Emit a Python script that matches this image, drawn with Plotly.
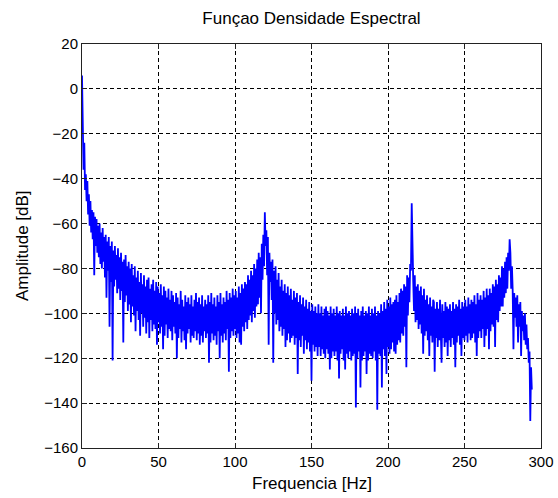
import plotly.graph_objects as go

# Spectral density estimate, one value every 0.5 Hz from 0 Hz to 294 Hz (dB)
amplitude_db = [
    # 0 - 4.5 Hz
    6, -19, -36, -24, -45, -38, -50, -41, -56, -47,
    # 5 Hz
    -61, -50, -64, -54, -67, -55, -83, -57, -70, -58,
    # 10 Hz
    -73, -61, -75, -60, -78, -64, -80, -62, -77, -66,
    # 15 Hz
    -84, -65, -93, -68, -81, -66, -106, -70, -86, -68,
    # 20 Hz
    -121, -72, -88, -70, -85, -74, -91, -71, -89, -75,
    # 25 Hz
    -94, -73, -90, -77, -113, -76, -95, -74, -92, -79,
    # 30 Hz
    -99, -77, -96, -80, -104, -78, -97, -83, -101, -79,
    # 35 Hz
    -108, -84, -99, -81, -103, -86, -110, -82, -100, -87,
    # 40 Hz
    -106, -83, -102, -88, -109, -85, -104, -84, -111, -89,
    # 45 Hz
    -103, -87, -108, -85, -105, -90, -107, -86, -114, -88,
    # 50 Hz
    -104, -91, -109, -87, -106, -92, -116, -88, -110, -90,
    # 55 Hz
    -105, -93, -111, -89, -107, -94, -108, -90, -112, -92,
    # 60 Hz
    -106, -95, -109, -91, -120, -93, -111, -96, -107, -90,
    # 65 Hz
    -113, -94, -108, -97, -112, -92, -116, -95, -109, -93,
    # 70 Hz
    -107, -96, -113, -92, -110, -97, -111, -94, -108, -91,
    # 75 Hz
    -112, -95, -109, -93, -114, -96, -110, -92, -113, -97,
    # 80 Hz
    -108, -94, -111, -96, -109, -92, -122, -95, -113, -91,
    # 85 Hz
    -109, -96, -112, -93, -110, -97, -114, -92, -108, -95,
    # 90 Hz
    -120, -91, -110, -96, -113, -93, -109, -95, -112, -90,
    # 95 Hz
    -107, -94, -126, -91, -111, -93, -108, -89, -110, -92,
    # 100 Hz
    -107, -90, -111, -93, -109, -88, -113, -91, -114, -87,
    # 105 Hz
    -106, -89, -108, -86, -104, -87, -107, -83, -103, -85,
    # 110 Hz
    -101, -81, -104, -83, -99, -78, -102, -80, -97, -76,
    # 115 Hz
    -96, -73, -93, -75, -100, -69, -85, -65, -79, -55,
    # 120 Hz
    -70, -63, -83, -66, -114, -73, -86, -77, -94, -76,
    # 125 Hz
    -122, -81, -100, -79, -105, -85, -103, -82, -108, -88,
    # 130 Hz
    -106, -85, -110, -90, -107, -87, -115, -91, -112, -88,
    # 135 Hz
    -109, -92, -113, -89, -111, -94, -110, -90, -114, -93,
    # 140 Hz
    -111, -91, -127, -95, -112, -92, -115, -96, -110, -93,
    # 145 Hz
    -118, -97, -112, -94, -116, -98, -113, -95, -117, -99,
    # 150 Hz
    -130, -96, -114, -99, -117, -97, -115, -100, -119, -96,
    # 155 Hz
    -115, -100, -119, -97, -116, -101, -118, -98, -120, -97,
    # 160 Hz
    -116, -99, -118, -101, -125, -97, -120, -100, -117, -98,
    # 165 Hz
    -119, -101, -117, -97, -121, -100, -129, -99, -118, -101,
    # 170 Hz
    -116, -98, -121, -101, -125, -97, -118, -100, -120, -99,
    # 175 Hz
    -117, -101, -121, -98, -119, -100, -118, -97, -142, -100,
    # 180 Hz
    -120, -98, -117, -101, -133, -99, -121, -97, -119, -101,
    # 185 Hz
    -117, -99, -127, -100, -121, -97, -118, -101, -119, -98,
    # 190 Hz
    -120, -100, -117, -97, -121, -101, -143, -99, -118, -100,
    # 195 Hz
    -119, -96, -133, -99, -116, -95, -119, -98, -127, -94,
    # 200 Hz
    -115, -97, -118, -93, -116, -96, -113, -95, -117, -94,
    # 205 Hz
    -118, -92, -114, -95, -112, -91, -113, -89, -109, -90,
    # 210 Hz
    -110, -87, -106, -88, -124, -83, -101, -84, -95, -78,
    # 215 Hz
    -81, -51, -75, -86, -99, -83, -104, -88, -103, -87,
    # 220 Hz
    -107, -90, -105, -88, -109, -92, -118, -89, -110, -94,
    # 225 Hz
    -108, -92, -112, -96, -119, -93, -110, -97, -113, -94,
    # 230 Hz
    -95, -126, -98, -111, -95, -115, -98, -112, -94, -114,
    # 235 Hz
    -122, -96, -111, -99, -115, -95, -113, -97, -119, -98,
    # 240 Hz
    -112, -96, -115, -99, -111, -95, -114, -98, -124, -96,
    # 245 Hz
    -113, -97, -110, -94, -114, -98, -119, -95, -111, -97,
    # 250 Hz
    -112, -94, -110, -97, -113, -93, -109, -96, -112, -94,
    # 255 Hz
    -111, -95, -109, -92, -113, -96, -119, -91, -111, -94,
    # 260 Hz
    -108, -92, -111, -94, -107, -90, -115, -93, -110, -89,
    # 265 Hz
    -107, -92, -116, -89, -108, -91, -105, -87, -106, -88,
    # 270 Hz
    -115, -85, -103, -87, -104, -83, -99, -84, -97, -79,
    # 275 Hz
    -97, -80, -93, -77, -91, -75, -89, -73, -81, -67,
    # 280 Hz
    -73, -89, -79, -90, -116, -91, -102, -93, -106, -92,
    # 285 Hz
    -113, -96, -106, -95, -119, -99, -108, -101, -112, -100,
    # 290 - 294 Hz
    -114, -105, -116, -111, -122, -117, -148, -124, -134,
]

freq_step_hz = 0.5
frequency_hz = [i * freq_step_hz for i in range(len(amplitude_db))]

x_ticks = [0, 50, 100, 150, 200, 250, 300]
y_ticks = [20, 0, -20, -40, -60, -80, -100, -120, -140, -160]

title_text = "Funçao Densidade Espectral"
x_label = "Frequencia [Hz]"
y_label = "Amplitude [dB]"

W, H = 558, 498
L, R, T, B = 82, 17, 44, 50
plot_w = W - L - R
plot_h = H - T - B

label_font = dict(family="Arial, Liberation Sans", size=17, color="#000000")

fig = go.Figure()
fig.add_trace(go.Scatter(
    x=frequency_hz,
    y=amplitude_db,
    mode="lines",
    line=dict(color="#0000ff", width=1.8),
    hoverinfo="skip",
    showlegend=False,
))

axis_common = dict(
    showline=True,
    linecolor="#222222",
    linewidth=1,
    mirror="ticks",
    ticks="inside",
    ticklen=5,
    tickcolor="#222222",
    showgrid=True,
    gridcolor="#000000",
    gridwidth=1,
    griddash="4px,3px",
    zeroline=False,
    tickfont=dict(family="Arial, Liberation Sans", size=15, color="#000000"),
)

fig.update_layout(
    width=W,
    height=H,
    margin=dict(l=L, r=R, t=T, b=B, autoexpand=False),
    paper_bgcolor="#ffffff",
    plot_bgcolor="#ffffff",
    title=dict(
        text=title_text,
        x=0.5, xref="paper", xanchor="center",
        y=1 - 18 / H, yref="container", yanchor="middle",
        font=label_font,
    ),
    xaxis=dict(range=[0, 300], tickvals=x_ticks, **axis_common),
    yaxis=dict(range=[-160, 20], tickvals=y_ticks, **axis_common),
    annotations=[
        dict(
            text=x_label, xref="paper", yref="paper",
            x=0.5, y=-(483 - (T + plot_h)) / plot_h,
            xanchor="center", yanchor="middle", showarrow=False,
            font=label_font,
        ),
        dict(
            text=y_label, xref="paper", yref="paper",
            x=-(L - 22) / plot_w, y=0.5, textangle=-90,
            xanchor="center", yanchor="middle", showarrow=False,
            font=label_font,
        ),
    ],
)

fig.write_html("out.html")
